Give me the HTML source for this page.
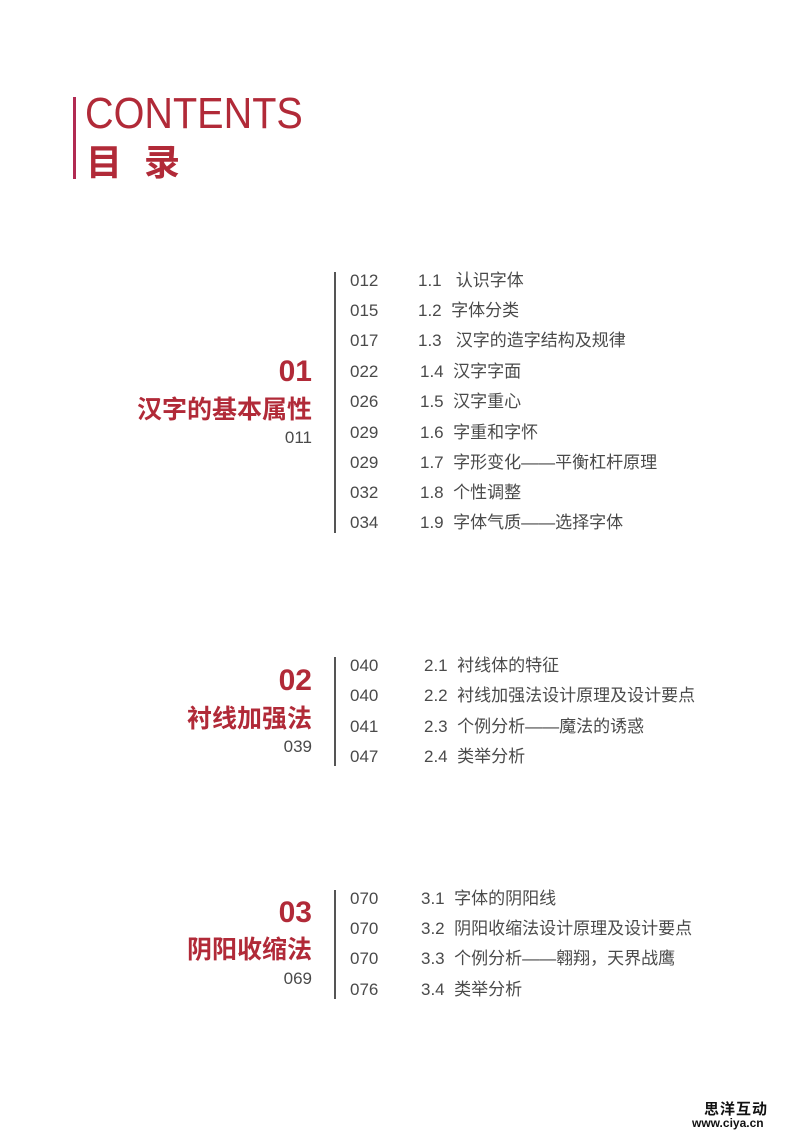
<!DOCTYPE html>
<html><head><meta charset="utf-8">
<style>
html,body{margin:0;padding:0;background:#fff}
body{width:800px;height:1139px;position:relative;overflow:hidden;font-family:"Liberation Sans","Noto Sans CJK SC",sans-serif;color:#4a4a4a}
.a{position:absolute;white-space:nowrap}
.r{height:22px;line-height:22px;font-size:17px}
.red{color:#b12a38}
.vl{position:absolute;width:1.5px;background:#555}
.sn{font-size:30px;font-weight:bold;text-align:right;right:488px;line-height:32px;height:32px}
.st{font-size:25px;font-weight:bold;text-align:right;right:488px;line-height:30px;height:30px;font-family:"Noto Sans CJK SC",sans-serif}
.sp{font-size:17px;text-align:right;right:488px;line-height:22px;height:22px}
</style></head><body>
<div class="a" style="left:73px;top:97px;width:3px;height:82px;background:#b12a52"></div>
<div class="a red" style="left:85px;top:92px;font-size:44px;line-height:44px;transform:scaleX(0.9);transform-origin:0 0">CONTENTS</div>
<div class="a red" style="left:86px;top:139px;font-size:36px;line-height:42px;font-weight:bold;font-family:'Noto Sans CJK SC',sans-serif;letter-spacing:22px">目录</div>

<div class="vl" style="left:334px;top:272px;height:261px"></div>
<div class="a sn red" style="top:356px">01</div>
<div class="a st red" style="top:393px">汉字的基本属性</div>
<div class="a sp" style="top:427px">011</div>
<div class="a r" style="left:350px;top:270px">012</div><div class="a r" style="left:418px;top:270px">1.1&nbsp;&nbsp; 认识字体</div>
<div class="a r" style="left:350px;top:300px">015</div><div class="a r" style="left:418px;top:300px">1.2&nbsp; 字体分类</div>
<div class="a r" style="left:350px;top:330px">017</div><div class="a r" style="left:418px;top:330px">1.3&nbsp;&nbsp; 汉字的造字结构及规律</div>
<div class="a r" style="left:350px;top:361px">022</div><div class="a r" style="left:420px;top:361px">1.4&nbsp; 汉字字面</div>
<div class="a r" style="left:350px;top:391px">026</div><div class="a r" style="left:420px;top:391px">1.5&nbsp; 汉字重心</div>
<div class="a r" style="left:350px;top:422px">029</div><div class="a r" style="left:420px;top:422px">1.6&nbsp; 字重和字怀</div>
<div class="a r" style="left:350px;top:452px">029</div><div class="a r" style="left:420px;top:452px">1.7&nbsp; 字形变化——平衡杠杆原理</div>
<div class="a r" style="left:350px;top:482px">032</div><div class="a r" style="left:420px;top:482px">1.8&nbsp; 个性调整</div>
<div class="a r" style="left:350px;top:512px">034</div><div class="a r" style="left:420px;top:512px">1.9&nbsp; 字体气质——选择字体</div>

<div class="vl" style="left:334px;top:657px;height:109px"></div>
<div class="a sn red" style="top:665px">02</div>
<div class="a st red" style="top:702px">衬线加强法</div>
<div class="a sp" style="top:736px">039</div>
<div class="a r" style="left:350px;top:655px">040</div><div class="a r" style="left:424px;top:655px">2.1&nbsp; 衬线体的特征</div>
<div class="a r" style="left:350px;top:685px">040</div><div class="a r" style="left:424px;top:685px">2.2&nbsp; 衬线加强法设计原理及设计要点</div>
<div class="a r" style="left:350px;top:716px">041</div><div class="a r" style="left:424px;top:716px">2.3&nbsp; 个例分析——魔法的诱惑</div>
<div class="a r" style="left:350px;top:746px">047</div><div class="a r" style="left:424px;top:746px">2.4&nbsp; 类举分析</div>

<div class="vl" style="left:334px;top:890px;height:109px"></div>
<div class="a sn red" style="top:897px">03</div>
<div class="a st red" style="top:933px">阴阳收缩法</div>
<div class="a sp" style="top:968px">069</div>
<div class="a r" style="left:350px;top:888px">070</div><div class="a r" style="left:421px;top:888px">3.1&nbsp; 字体的阴阳线</div>
<div class="a r" style="left:350px;top:918px">070</div><div class="a r" style="left:421px;top:918px">3.2&nbsp; 阴阳收缩法设计原理及设计要点</div>
<div class="a r" style="left:350px;top:948px">070</div><div class="a r" style="left:421px;top:948px">3.3&nbsp; 个例分析——翱翔，天界战鹰</div>
<div class="a r" style="left:350px;top:979px">076</div><div class="a r" style="left:421px;top:979px">3.4&nbsp; 类举分析</div>

<div class="a" style="left:704px;top:1100px;font-size:15px;line-height:17px;color:#111;font-weight:bold;font-family:'Noto Sans CJK SC',sans-serif;letter-spacing:1px">思洋互动</div>
<div class="a" style="left:692px;top:1117px;font-size:12px;line-height:13px;color:#111;font-weight:bold">www.ciya.cn</div>
</body></html>
